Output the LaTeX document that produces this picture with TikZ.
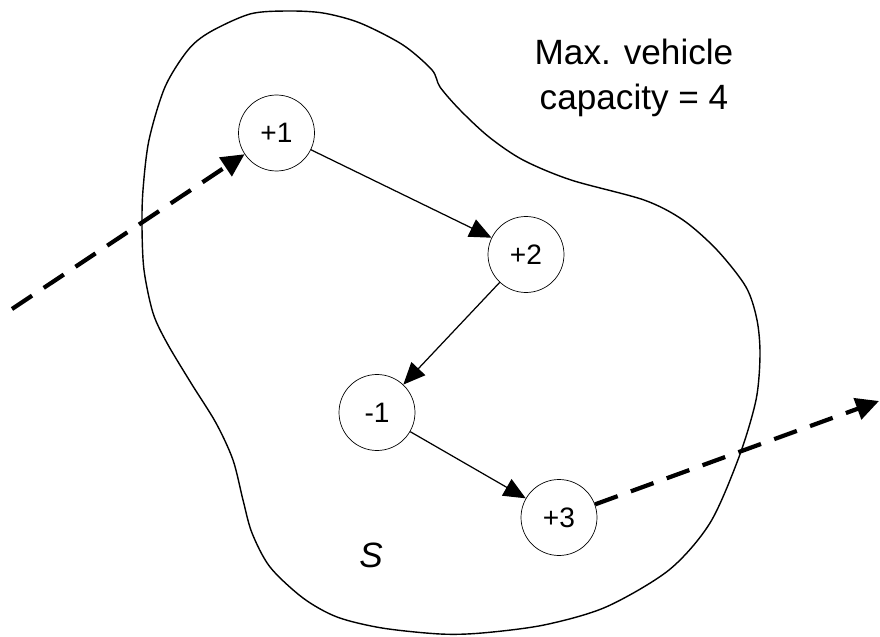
\documentclass[tikz,border=0pt]{standalone}
\usepackage{fontspec}
\setmainfont{Liberation Sans}
\usetikzlibrary{arrows.meta,positioning}

\tikzset{
    loadnode/.style={circle,draw,line width=0.4pt,inner sep=0pt,
        minimum size=1.52cm,font=\fontsize{16}{19}\selectfont},
    route/.style={line width=0.7pt,-{Triangle[length=0.44cm,width=0.38cm]}},
    flow/.style={line width=2.4pt,dash pattern=on 13.7pt off 8pt,
        -{Triangle[length=0.46cm,width=0.44cm]}}
}

\begin{document}
\begin{tikzpicture}
    \useasboundingbox (0,0) rectangle (17.6,12.72);
    % the set S
    \draw[line width=0.8pt] plot[smooth cycle,tension=0.5] coordinates {
        (5.74,12.50) (6.46,12.46) (7.20,12.26) (8.06,11.82) (8.64,11.32)
        (8.80,10.98) (9.20,10.52) (9.78,9.98) (10.46,9.52) (11.42,9.12)
        (12.88,8.72) (13.66,8.32) (14.34,7.72) (14.92,6.98) (15.14,6.32)
        (15.20,5.62) (15.12,4.72) (14.78,3.58) (14.20,2.26) (13.38,1.32)
        (12.12,0.58) (10.88,0.22) (9.64,0.06) (8.80,0.04) (7.64,0.16)
        (6.74,0.38) (6.06,0.76) (5.40,1.38) (5.04,2.06) (4.86,2.72)
        (4.66,3.52) (4.32,4.26) (3.82,5.06) (3.34,5.86) (3.06,6.46)
        (2.88,7.32) (2.84,8.18) (2.86,8.92) (2.98,9.92) (3.30,10.98)
        (3.76,11.72) (4.20,12.08) (5.00,12.44)};
    \node (setname) at (7.42,1.62) {\fontsize{20}{24}\selectfont\itshape S};
    \node[align=center,inner sep=0pt,font=\fontsize{20}{25.6}\selectfont]
        (capacity) at (12.68,11.16) {Max. vehicle\\capacity = 4};
    %%
    \node[loadnode] (p1) at (5.53,10.06) {+1};
    \node[loadnode] (p2) at (10.52,7.63) {+2};
    \node[loadnode] (m1) at (7.54,4.47) {-1};
    \node[loadnode] (p3) at (11.18,2.37) {+3};
    \draw[route] (p1) -- (p2);
    \draw[route] (p2) -- (m1);
    \draw[route] (m1) -- (p3);
    %%
    \coordinate (enter) at (0.24,6.54);
    \coordinate (leave) at (17.58,4.70);
    \draw[flow] (enter) -- (p1);
    \draw[flow] (p3) -- (leave);
\end{tikzpicture}
\end{document}
